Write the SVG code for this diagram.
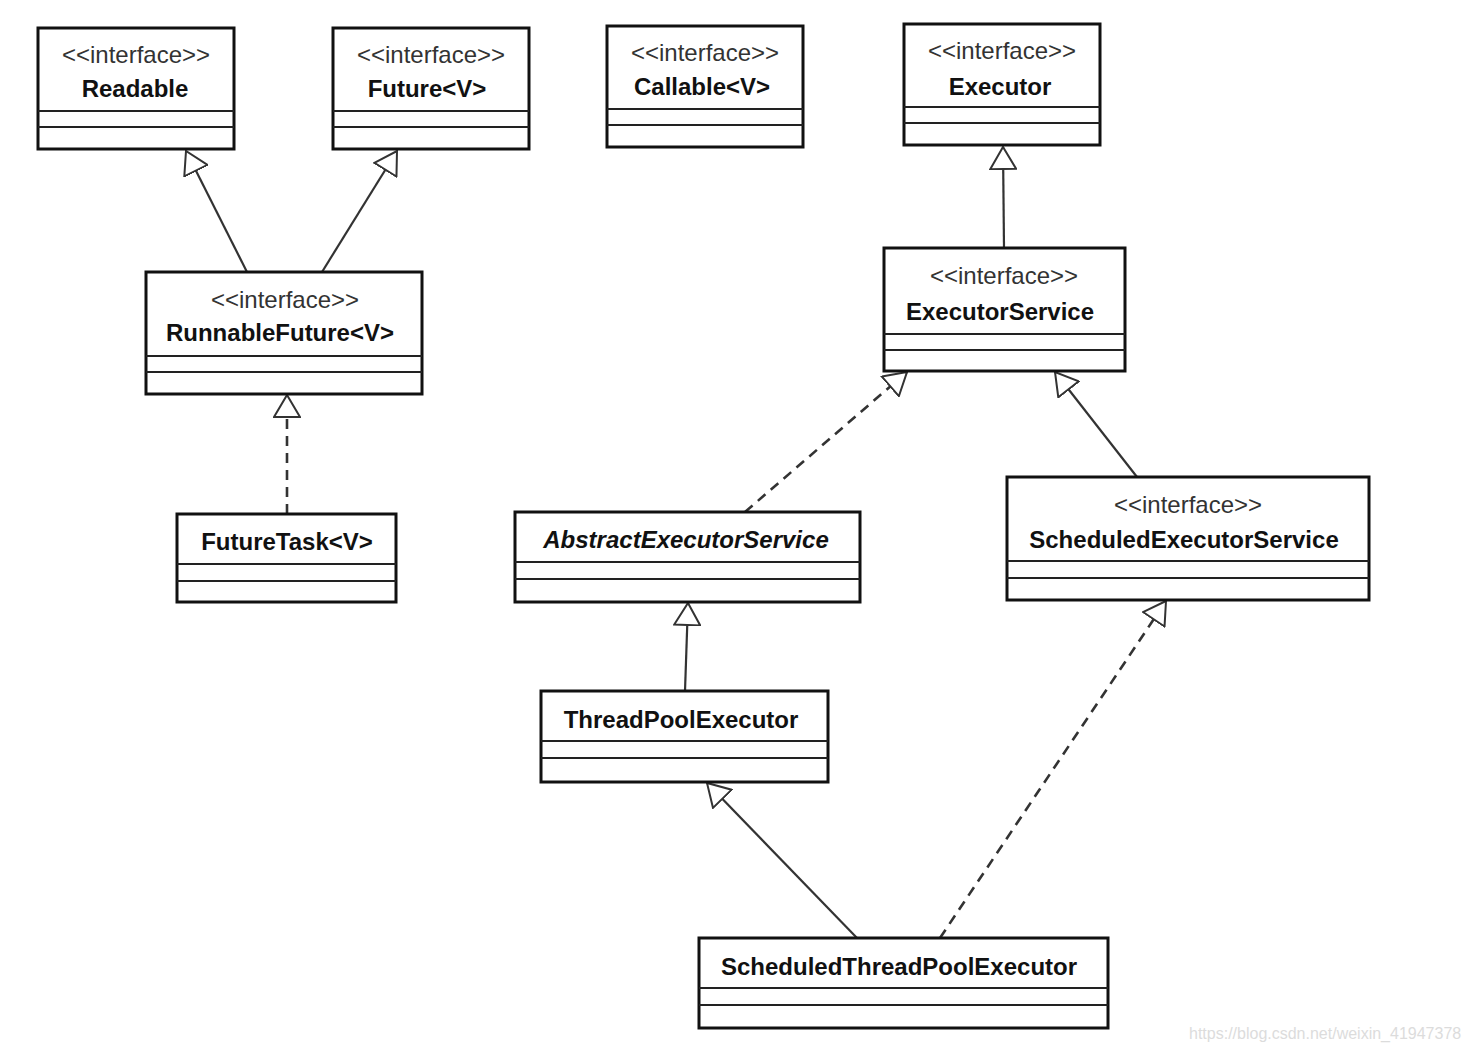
<svg xmlns="http://www.w3.org/2000/svg" width="1470" height="1052" viewBox="0 0 1470 1052">
<style>
.box{fill:#fff;stroke:#111;stroke-width:3}
.div{stroke:#222;stroke-width:2}
.st{font-family:"Liberation Sans",Arial,sans-serif;font-size:24px;fill:#333;text-anchor:middle}
.nm{font-family:"Liberation Sans",Arial,sans-serif;font-size:24px;font-weight:bold;fill:#111;text-anchor:middle}
.it{font-style:italic}
.ln{fill:none;stroke:#333;stroke-width:2.2}
.dash{stroke-dasharray:10 7;stroke-width:2.6}
.wm{font-family:"Liberation Sans",Arial,sans-serif;font-size:16px;fill:#dcdcdc}
</style>
<defs>
<marker id="tri" viewBox="0 0 25 28" markerWidth="25" markerHeight="28" refX="23" refY="14" orient="auto" markerUnits="userSpaceOnUse">
<path d="M1,1 L23,14 L1,27 Z" fill="#fff" stroke="#333" stroke-width="2"/>
</marker>
</defs>
<rect width="1470" height="1052" fill="#fff"/>
<g id="connectors">
<line class="ln" x1="247" y1="272" x2="186" y2="151" marker-end="url(#tri)"/>
<line class="ln" x1="322" y1="272" x2="397" y2="151" marker-end="url(#tri)"/>
<line class="ln dash" x1="287" y1="514" x2="287" y2="395" marker-end="url(#tri)"/>
<line class="ln" x1="1004" y1="248" x2="1003" y2="147" marker-end="url(#tri)"/>
<line class="ln dash" x1="745" y1="512" x2="907" y2="372" marker-end="url(#tri)"/>
<line class="ln" x1="1137" y1="477" x2="1055" y2="372" marker-end="url(#tri)"/>
<line class="ln" x1="685" y1="691" x2="688" y2="603" marker-end="url(#tri)"/>
<line class="ln" x1="857" y1="938" x2="707" y2="783" marker-end="url(#tri)"/>
<line class="ln dash" x1="940" y1="938" x2="1166" y2="601" marker-end="url(#tri)"/>
</g>
<g id="readable">
<rect class="box" x="38" y="28" width="196" height="121"/>
<line class="div" x1="38" y1="111" x2="234" y2="111"/>
<line class="div" x1="38" y1="127" x2="234" y2="127"/>
<text class="st" x="136" y="63">&lt;&lt;interface&gt;&gt;</text>
<text class="nm" x="135" y="97">Readable</text>
</g>
<g id="future">
<rect class="box" x="333" y="28" width="196" height="121"/>
<line class="div" x1="333" y1="111" x2="529" y2="111"/>
<line class="div" x1="333" y1="127" x2="529" y2="127"/>
<text class="st" x="431" y="63">&lt;&lt;interface&gt;&gt;</text>
<text class="nm" x="427" y="97">Future&lt;V&gt;</text>
</g>
<g id="callable">
<rect class="box" x="607" y="26" width="196" height="121"/>
<line class="div" x1="607" y1="109" x2="803" y2="109"/>
<line class="div" x1="607" y1="125" x2="803" y2="125"/>
<text class="st" x="705" y="61">&lt;&lt;interface&gt;&gt;</text>
<text class="nm" x="702" y="95">Callable&lt;V&gt;</text>
</g>
<g id="executor">
<rect class="box" x="904" y="24" width="196" height="121"/>
<line class="div" x1="904" y1="107" x2="1100" y2="107"/>
<line class="div" x1="904" y1="123" x2="1100" y2="123"/>
<text class="st" x="1002" y="59">&lt;&lt;interface&gt;&gt;</text>
<text class="nm" x="1000" y="95">Executor</text>
</g>
<g id="runnablefuture">
<rect class="box" x="146" y="272" width="276" height="122"/>
<line class="div" x1="146" y1="356" x2="422" y2="356"/>
<line class="div" x1="146" y1="372" x2="422" y2="372"/>
<text class="st" x="285" y="308">&lt;&lt;interface&gt;&gt;</text>
<text class="nm" x="280" y="341">RunnableFuture&lt;V&gt;</text>
</g>
<g id="futuretask">
<rect class="box" x="177" y="514" width="219" height="88"/>
<line class="div" x1="177" y1="564" x2="396" y2="564"/>
<line class="div" x1="177" y1="581" x2="396" y2="581"/>
<text class="nm" x="287" y="550">FutureTask&lt;V&gt;</text>
</g>
<g id="executorservice">
<rect class="box" x="884" y="248" width="241" height="123"/>
<line class="div" x1="884" y1="334" x2="1125" y2="334"/>
<line class="div" x1="884" y1="350" x2="1125" y2="350"/>
<text class="st" x="1004" y="284">&lt;&lt;interface&gt;&gt;</text>
<text class="nm" x="1000" y="320">ExecutorService</text>
</g>
<g id="abstractexecutorservice">
<rect class="box" x="515" y="512" width="345" height="90"/>
<line class="div" x1="515" y1="562" x2="860" y2="562"/>
<line class="div" x1="515" y1="579" x2="860" y2="579"/>
<text class="nm it" x="686" y="548">AbstractExecutorService</text>
</g>
<g id="scheduledexecutorservice">
<rect class="box" x="1007" y="477" width="362" height="123"/>
<line class="div" x1="1007" y1="561" x2="1369" y2="561"/>
<line class="div" x1="1007" y1="578" x2="1369" y2="578"/>
<text class="st" x="1188" y="513">&lt;&lt;interface&gt;&gt;</text>
<text class="nm" x="1184" y="548">ScheduledExecutorService</text>
</g>
<g id="threadpoolexecutor">
<rect class="box" x="541" y="691" width="287" height="91"/>
<line class="div" x1="541" y1="741" x2="828" y2="741"/>
<line class="div" x1="541" y1="758" x2="828" y2="758"/>
<text class="nm" x="681" y="728">ThreadPoolExecutor</text>
</g>
<g id="scheduledthreadpoolexecutor">
<rect class="box" x="699" y="938" width="409" height="90"/>
<line class="div" x1="699" y1="988" x2="1108" y2="988"/>
<line class="div" x1="699" y1="1005" x2="1108" y2="1005"/>
<text class="nm" x="899" y="975">ScheduledThreadPoolExecutor</text>
</g>
<text class="wm" x="1189" y="1039">https://blog.csdn.net/weixin_41947378</text>
</svg>
